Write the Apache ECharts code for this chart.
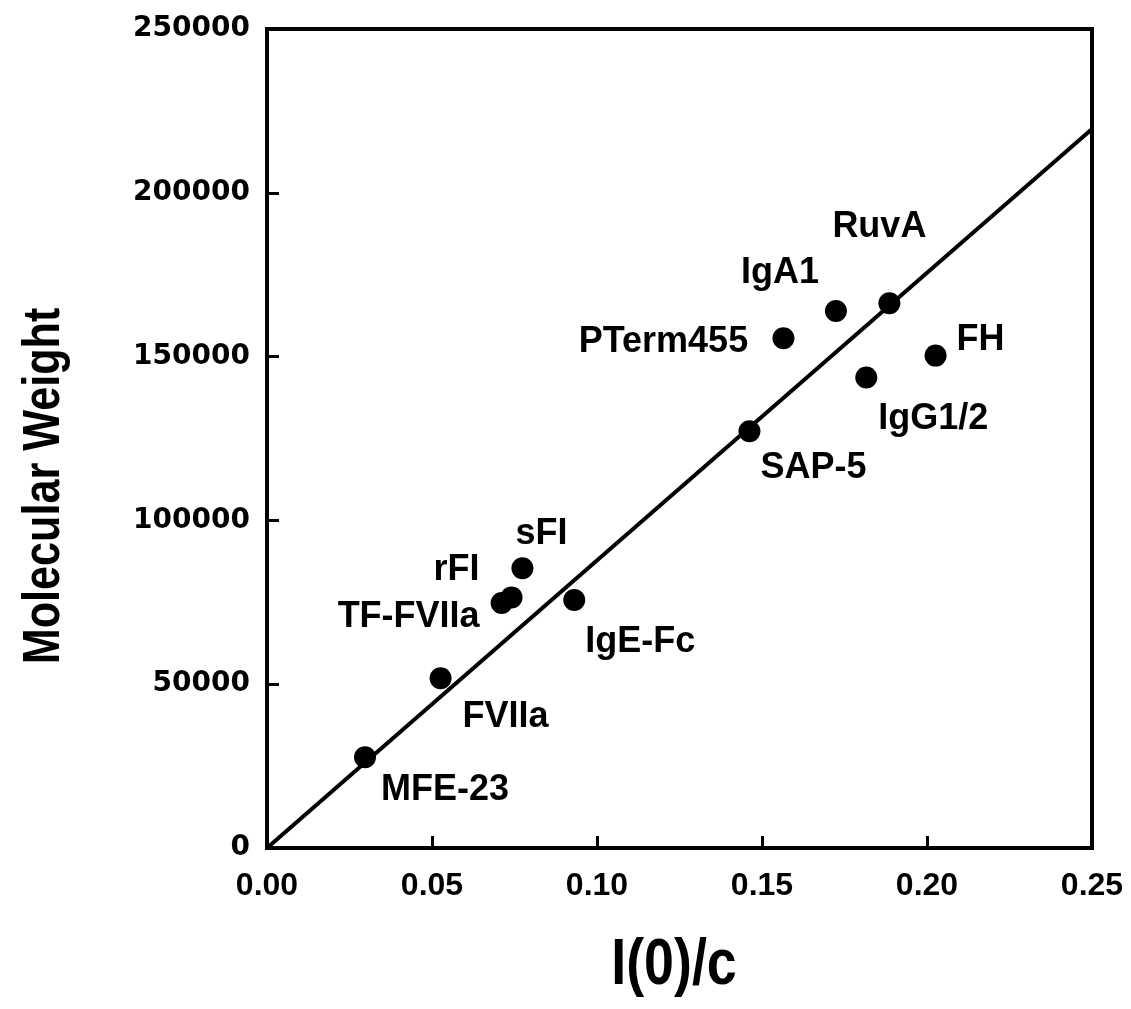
<!DOCTYPE html>
<html>
<head>
<meta charset="utf-8">
<script src="https://cdn.jsdelivr.net/npm/echarts@6/dist/echarts.min.js"></script>
<style>
  html, body { margin: 0; padding: 0; background: #fff; }
  #chart { width: 1131px; height: 1009px; }
</style>
</head>
<body>
<div id="chart"></div>
<script>
const proteinNames = ['MFE-23', 'FVIIa', 'TF-FVIIa', 'rFI', 'sFI', 'IgE-Fc', 'SAP-5', 'PTerm455', 'IgA1', 'RuvA', 'IgG1/2', 'FH'];
const intensityValues = [0.0297, 0.0526, 0.0711, 0.0741, 0.0774, 0.0931, 0.1462, 0.1565, 0.1724, 0.1886, 0.1816, 0.2026];
const weightValues = [27700, 51800, 74800, 76500, 85400, 75700, 127200, 155600, 163900, 166300, 143600, 150300];
const fitLine = [[0, 0], [0.25, 219500]];

// label centre relative to the dot centre, in pixels
const labelOffsets = [[80, 33], [65, 39], [-93, 14], [-55, -27], [19, -34], [66, 42], [64, 37], [-120, 4], [-56, -38], [-10, -76], [67, 42], [45, -16]];

const DOT = 22;
const scatterData = proteinNames.map((name, i) => ({
  name,
  value: [intensityValues[i], weightValues[i]],
  label: { position: [DOT / 2 + labelOffsets[i][0], DOT / 2 + labelOffsets[i][1]] },
}));

const titleFont = 'bold {size}px "Liberation Sans", Arial, sans-serif';

const chart = echarts.init(document.getElementById('chart'));
chart.setOption({
  animation: false,
  backgroundColor: '#fff',
  grid: {
    left: 267, right: 39, top: 29, bottom: 161,
    show: true, borderColor: '#000', borderWidth: 4,
  },
  graphic: [
    {
      type: 'text',
      x: 45, y: 486,
      rotation: Math.PI / 2,
      scaleX: 0.83,
      style: {
        text: 'Molecular Weight',
        font: titleFont.replace('{size}', 52),
        fill: '#000',
        align: 'center',
        verticalAlign: 'middle',
      },
    },
    {
      type: 'text',
      x: 674, y: 966,
      scaleX: 0.84,
      style: {
        text: 'I(0)/c',
        font: titleFont.replace('{size}', 64),
        fill: '#000',
        align: 'center',
        verticalAlign: 'middle',
      },
    },
  ],
  xAxis: {
    type: 'value',
    min: 0,
    max: 0.25,
    interval: 0.05,
    axisLine: { show: true, lineStyle: { color: '#000', width: 4 } },
    axisTick: { show: true, inside: true, length: 12, lineStyle: { color: '#000', width: 3 } },
    splitLine: { show: false },
    axisLabel: {
      margin: 22,
      color: '#000',
      fontFamily: '"Liberation Sans", Arial, sans-serif',
      fontWeight: 'bold',
      fontSize: 32,
      formatter: (v) => v.toFixed(2),
    },
  },
  yAxis: {
    type: 'value',
    min: 0,
    max: 250000,
    interval: 50000,
    axisLine: { show: true, lineStyle: { color: '#000', width: 4 } },
    axisTick: { show: true, inside: true, length: 12, lineStyle: { color: '#000', width: 3 } },
    splitLine: { show: false },
    axisLabel: {
      margin: 17,
      color: '#000',
      fontFamily: '"DejaVu Sans", sans-serif',
      fontWeight: 'bold',
      fontSize: 28,
      formatter: (v) => String(v),
    },
  },
  series: [
    {
      name: 'Fit',
      type: 'line',
      data: fitLine,
      symbol: 'none',
      silent: true,
      lineStyle: { color: '#000', width: 4 },
      z: 2,
    },
    {
      name: 'Proteins',
      type: 'scatter',
      data: scatterData,
      symbol: 'circle',
      symbolSize: DOT,
      itemStyle: { color: '#000', opacity: 1 },
      label: {
        show: true,
        align: 'center',
        verticalAlign: 'middle',
        formatter: '{b}',
        color: '#000',
        opacity: 1,
        fontFamily: '"Liberation Sans", Arial, sans-serif',
        fontWeight: 'bold',
        fontSize: 36,
      },
      labelLayout: { hideOverlap: false },
      z: 3,
    },
  ],
});
</script>
</body>
</html>
